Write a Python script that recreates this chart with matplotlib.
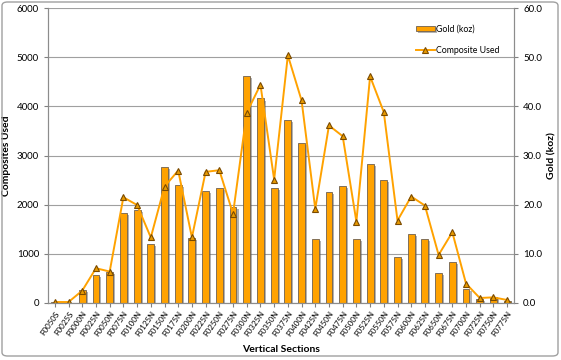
import matplotlib.pyplot as plt
import matplotlib.patheffects as pe
from matplotlib.patches import FancyBboxPatch
import numpy as np

plt.rcParams['font.family'] = ['Lato', 'DejaVu Sans']

secciones = ["F0050S", "F0025S", "F0000N", "F0025N", "F0050N", "F0075N", "F0100N",
             "F0125N", "F0150N", "F0175N", "F0200N", "F0225N", "F0250N", "F0275N",
             "F0300N", "F0325N", "F0350N", "F0375N", "F0400N", "F0425N", "F0450N",
             "F0475N", "F0500N", "F0525N", "F0550N", "F0575N", "F0600N", "F0625N",
             "F0650N", "F0675N", "F0700N", "F0725N", "F0750N", "F0775N"]
oro = [0.2, 0.1, 2.7, 5.7, 6.3, 18.4, 18.9, 12.1, 27.6, 24.0, 13.2, 22.8, 23.4, 19.5,
       46.1, 41.6, 23.4, 37.3, 32.5, 13.0, 22.6, 23.8, 13.1, 28.2, 25.0, 9.4, 14.0,
       13.1, 6.2, 8.3, 2.8, 0.8, 1.3, 0.5]
compositos = [20, 20, 252, 707, 640, 2150, 1993, 1333, 2367, 2694, 1333, 2667, 2701, 1816,
              3870, 4440, 2511, 5037, 4120, 1915, 3611, 3393, 1657, 4609, 3882, 1677, 2166,
              1982, 978, 1439, 394, 102, 115, 61]

x = np.arange(len(secciones))
naranja = "#FFA200"

fig = plt.figure(figsize=(5.61, 3.60), dpi=100)
ax = fig.add_axes([48 / 561, 1 - 303 / 360, (514 - 48) / 561, (303 - 8) / 360])
ax2 = ax.twinx()

# barras en el eje derecho (oro), linea en el izquierdo (compositos)
ax2.set_facecolor("#E4E4E4")
ax2.grid(axis="y", color="#A0A0A0", lw=0.8)
ax2.set_axisbelow(True)
barras = ax2.bar(x, oro, width=0.5, color=naranja, edgecolor="#6E6050", lw=0.6,
                 label="Gold (koz)")
for b in barras:
    b.set_path_effects([pe.SimplePatchShadow(offset=(1.5, -1.5), shadow_rgbFace="#555555", alpha=0.45),
                        pe.Normal()])

ax.set_zorder(ax2.get_zorder() + 1)
ax.patch.set_visible(False)
ax.plot(x, compositos, color=naranja, lw=1.4, marker="^", ms=4.8,
        mfc="#E89A00", mec="#7A4A00", mew=0.8, label="Composite Used")

ax.set_xlim(-0.5, len(secciones) - 0.5)
ax.set_ylim(0, 6000)
ax2.set_ylim(0, 60)
ax.set_yticks(np.arange(0, 6001, 1000))
ax2.set_yticks(np.arange(0, 61, 10))
ax2.set_yticklabels(["%.1f" % v for v in np.arange(0, 61, 10)])

ax.set_xticks(x)
ax.set_xticklabels(secciones, rotation=55, ha="right", rotation_mode="anchor", fontsize=5.8)
ax.tick_params(axis="y", labelsize=7, length=3, color="#808080")
ax2.tick_params(axis="y", labelsize=7, length=3, color="#808080")
ax.tick_params(axis="x", length=3, color="#808080", pad=2)

for a in (ax, ax2):
    for s in a.spines.values():
        s.set_color("#8C8C8C")
    a.spines["top"].set_visible(False)

ax.set_ylabel("Composites Used", fontsize=7.5, fontweight="bold")
ax2.set_ylabel("Gold (koz)", fontsize=7.5, fontweight="bold")
ax.set_xlabel("Vertical Sections", fontsize=7.5, fontweight="bold", labelpad=5)

h1, l1 = ax2.get_legend_handles_labels()
h2, l2 = ax.get_legend_handles_labels()
ax.legend(h1 + h2, l1 + l2, loc="upper right", bbox_to_anchor=(0.985, 0.97), frameon=False,
          fontsize=6.3, handlelength=2.2, handleheight=0.5, labelspacing=1.4, handletextpad=0.1)

borde = FancyBboxPatch((2 / 561, 4 / 360), 556 / 561, 354 / 360, boxstyle="round,pad=0,rounding_size=0.01",
                       transform=fig.transFigure, fill=False, edgecolor="#A0A0A0", lw=1)
fig.patches.append(borde)

plt.savefig("out.png", dpi=100)
